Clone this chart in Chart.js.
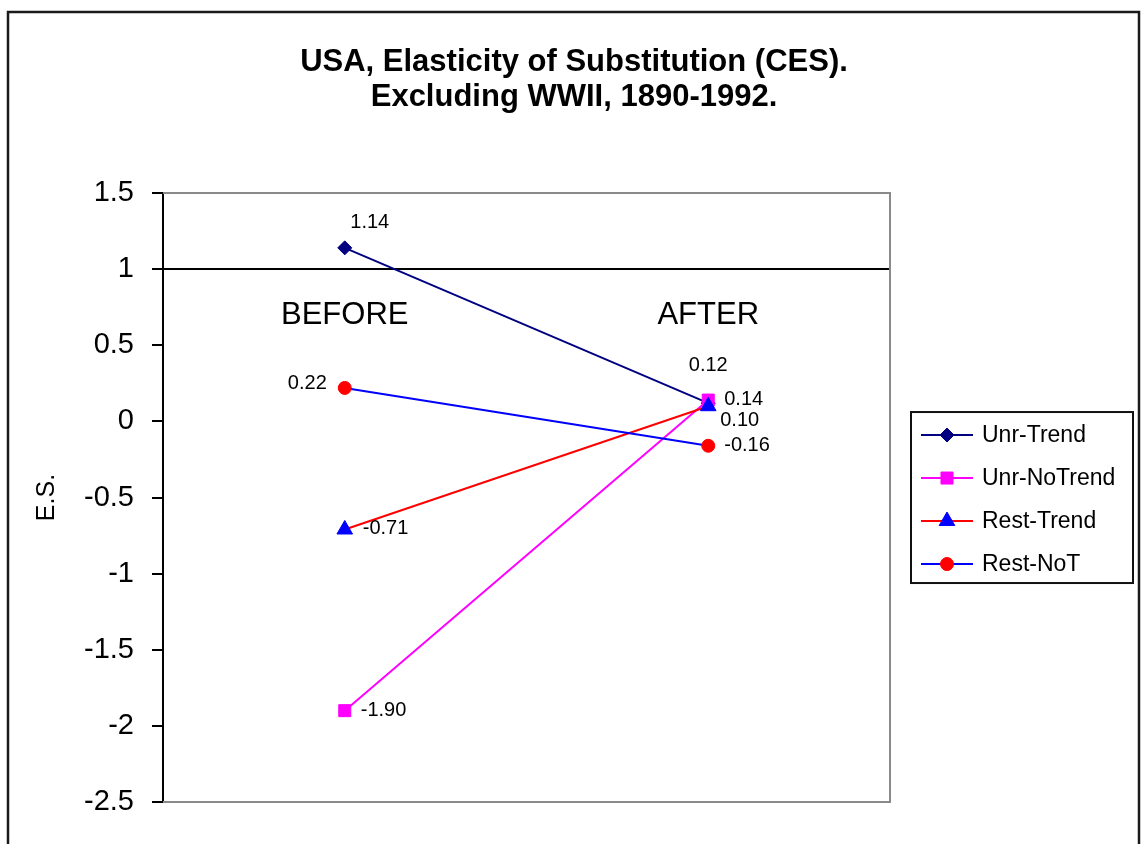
<!DOCTYPE html>
<html>
<head>
<meta charset="utf-8">
<title>USA, Elasticity of Substitution (CES)</title>
<script src="https://cdn.jsdelivr.net/npm/chart.js@4.4.0/dist/chart.umd.min.js"></script>
<style>
  html, body { margin: 0; padding: 0; background: #fff; }
  canvas { display: block; }
</style>
</head>
<body>
<canvas id="chart" width="1141" height="844"></canvas>
<script>
// ---- data ----
const categories = ['BEFORE', 'AFTER'];
const seriesNames = ['Unr-Trend', 'Unr-NoTrend', 'Rest-Trend', 'Rest-NoT'];
const unrTrend = [1.14, 0.12];
const unrNoTrend = [-1.90, 0.14];
const restTrend = [-0.71, 0.10];
const restNoT = [0.22, -0.16];
const yMin = -2.5;
const yMax = 1.5;
const yStep = 0.5;
const categoryAxisCrossesAt = 1;

const FONT = "'Liberation Sans', Arial, Helvetica, sans-serif";

// value-label placement relative to each point (pixels)
const labelPlacement = [
  [{dx: 25, dy: -25, align: 'center'}, {dx: 0, dy: -38, align: 'center'}],
  [{dx: 16, dy: 0, align: 'left'}, {dx: 16, dy: -1, align: 'left'}],
  [{dx: 18, dy: -1, align: 'left'}, {dx: 12, dy: 14, align: 'left'}],
  [{dx: -18, dy: -4, align: 'right'}, {dx: 16, dy: 0, align: 'left'}]
];

const seriesValues = [unrTrend, unrNoTrend, restTrend, restNoT];
const lineColors = ['#000080', '#FF00FF', '#FF0000', '#0000FF'];
const markerColors = ['#000080', '#FF00FF', '#0000FF', '#FF0000'];
const markerShapes = ['rectRot', 'rect', 'triangle', 'circle'];
const markerRadii = [7, 8.5, 9, 6.5];

const datasets = seriesNames.map((name, i) => ({
  label: name,
  data: seriesValues[i],
  borderColor: lineColors[i],
  backgroundColor: markerColors[i],
  borderWidth: 2,
  tension: 0,
  pointStyle: markerShapes[i],
  pointRadius: markerRadii[i],
  pointBackgroundColor: markerColors[i],
  pointBorderColor: markerColors[i],
  pointBorderWidth: 1,
  order: seriesNames.length - 1 - i
}));

// white page, outer frame and the grey plot-area frame
const framePlugin = {
  id: 'frames',
  beforeDraw(chart) {
    const ctx = chart.ctx;
    ctx.save();
    ctx.fillStyle = '#fff';
    ctx.fillRect(0, 0, chart.width, chart.height);
    ctx.strokeStyle = '#1a1a1a';
    ctx.lineWidth = 2.5;
    ctx.strokeRect(8, 12, chart.width - 10, chart.height + 40);
    ctx.restore();
  },
  beforeDatasetsDraw(chart) {
    const {ctx, chartArea: a} = chart;
    ctx.save();
    ctx.strokeStyle = '#8a8a8a';
    ctx.lineWidth = 2;
    ctx.beginPath();
    ctx.moveTo(a.left, a.top);
    ctx.lineTo(a.right, a.top);
    ctx.lineTo(a.right, a.bottom);
    ctx.lineTo(a.left, a.bottom);
    ctx.stroke();
    ctx.restore();
  }
};

// numeric labels next to each point
const valueLabelPlugin = {
  id: 'valueLabels',
  afterDatasetsDraw(chart) {
    const ctx = chart.ctx;
    ctx.save();
    ctx.fillStyle = '#000';
    ctx.font = '20px ' + FONT;
    ctx.textBaseline = 'middle';
    chart.data.datasets.forEach((ds, di) => {
      const meta = chart.getDatasetMeta(di);
      meta.data.forEach((pt, pi) => {
        const p = labelPlacement[di][pi];
        ctx.textAlign = p.align;
        ctx.fillText(ds.data[pi].toFixed(2), pt.x + p.dx, pt.y + p.dy);
      });
    });
    ctx.restore();
  }
};

// boxed legend with line + marker samples
const sideLegendPlugin = {
  id: 'sideLegend',
  afterDraw(chart) {
    const {ctx, chartArea: a} = chart;
    const boxW = 222, boxH = 171;
    const bx = a.right + 21;
    const by = (a.top + a.bottom) / 2 - boxH / 2;
    ctx.save();
    ctx.fillStyle = '#fff';
    ctx.fillRect(bx, by, boxW, boxH);
    ctx.strokeStyle = '#111';
    ctx.lineWidth = 2;
    ctx.strokeRect(bx, by, boxW, boxH);
    ctx.font = '23px ' + FONT;
    ctx.textBaseline = 'middle';
    ctx.textAlign = 'left';
    chart.data.datasets.forEach((ds, i) => {
      const y = by + 23 + i * 43;
      const x0 = bx + 10, x1 = bx + 62;
      ctx.strokeStyle = ds.borderColor;
      ctx.lineWidth = 2;
      ctx.beginPath();
      ctx.moveTo(x0, y);
      ctx.lineTo(x1, y);
      ctx.stroke();
      ctx.fillStyle = ds.pointBackgroundColor;
      ctx.strokeStyle = ds.pointBorderColor;
      ctx.lineWidth = 1;
      Chart.helpers.drawPoint(ctx, {
        pointStyle: ds.pointStyle,
        radius: ds.pointRadius,
        rotation: 0,
        borderWidth: 1
      }, (x0 + x1) / 2, y);
      ctx.fillStyle = '#000';
      ctx.fillText(ds.label, bx + 71, y + 1);
    });
    ctx.restore();
  }
};

new Chart(document.getElementById('chart'), {
  type: 'line',
  data: { labels: categories, datasets },
  plugins: [framePlugin, valueLabelPlugin, sideLegendPlugin],
  options: {
    responsive: false,
    animation: false,
    events: [],
    layout: { padding: { left: 7, right: 0, top: 0, bottom: 42 } },
    plugins: {
      legend: { display: false },
      tooltip: { enabled: false },
      title: {
        display: true,
        text: ['USA, Elasticity of Substitution (CES).', 'Excluding WWII, 1890-1992.'],
        color: '#000',
        font: { family: FONT, size: 31, weight: 'bold', lineHeight: 1.13 },
        padding: { top: 45, bottom: 78 }
      }
    },
    scales: {
      x: {
        type: 'category',
        offset: true,
        position: { y: categoryAxisCrossesAt },
        grid: { display: false, drawTicks: false },
        border: { display: true, color: '#000', width: 2 },
        ticks: { color: '#000', font: { family: FONT, size: 31 }, padding: 28, maxRotation: 0 }
      },
      y: {
        position: 'left',
        min: yMin,
        max: yMax,
        ticks: {
          stepSize: yStep,
          color: '#000',
          font: { family: FONT, size: 29 },
          padding: 18,
          callback: (v) => String(Number(v.toFixed(1)))
        },
        grid: { display: true, drawOnChartArea: false, drawTicks: true, tickLength: 11, color: '#000', lineWidth: 2 },
        border: { display: true, color: '#000', width: 2 },
        title: {
          display: true,
          text: 'E.S.',
          color: '#000',
          font: { family: FONT, size: 25, lineHeight: 1.2 },
          padding: { top: 25, bottom: 0 }
        },
        afterFit(scale) { scale.width = 156; }
      },
      legendSpace: {
        type: 'linear',
        position: 'right',
        display: true,
        ticks: { display: false },
        grid: { display: false, drawTicks: false },
        border: { display: false },
        afterFit(scale) { scale.width = 251; }
      }
    }
  }
});
</script>
</body>
</html>
